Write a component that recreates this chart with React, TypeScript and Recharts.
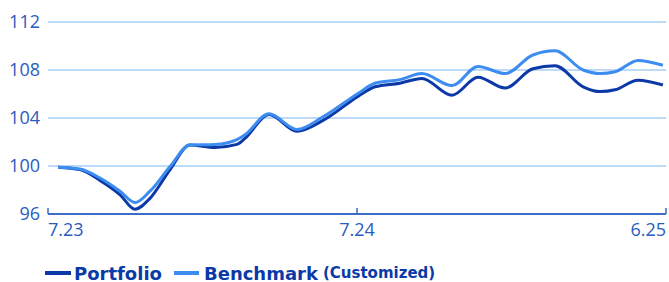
import React from 'react';
import { LineChart, Line, XAxis, YAxis, CartesianGrid } from 'recharts';

const months = [0.39, 1.24, 2.02, 2.8, 3.38, 3.96, 4.74, 5.51, 6.49, 7.34, 7.65, 8.58, 9.67, 10.68, 12.04, 12.7, 13.67, 14.52, 15.69, 16.7, 17.75, 18.83, 19.69, 20.78, 21.44, 22.02, 22.91, 23.88];
const portfolio = [99.9, 99.7, 98.8, 97.6, 96.4, 97.3, 99.7, 101.75, 101.55, 101.8, 102.3, 104.3, 102.9, 103.8, 105.8, 106.6, 106.9, 107.3, 105.9, 107.4, 106.5, 108.1, 108.35, 106.6, 106.2, 106.35, 107.15, 106.75];
const benchmark = [99.9, 99.75, 99.0, 97.9, 96.95, 97.9, 99.95, 101.75, 101.8, 102.2, 102.6, 104.35, 103.05, 104.1, 106.05, 106.9, 107.2, 107.7, 106.7, 108.3, 107.7, 109.25, 109.6, 108.0, 107.7, 107.85, 108.8, 108.4];

const xTicks = [0, 12, 24];
const xTickLabels = ['7.23', '7.24', '6.25'];
const yTicks = [96, 100, 104, 108, 112];

const data = months.map((m, i) => ({ m, portfolio: portfolio[i], benchmark: benchmark[i] }));

const PORT = '#0b3aa8';
const BENCH = '#3d8cf0';
const TICK = '#2a5bbf';

const XTick = (props: any) => {
  const { x, y, index, payload } = props;
  const i = xTicks.indexOf(payload.value);
  const anchor = i === 0 ? 'start' : i === xTicks.length - 1 ? 'end' : 'middle';
  return (
    <g>
      <line x1={x} x2={x} y1={y - 6} y2={y} stroke="#3d6cc4" strokeWidth={1.5} />
      <text x={x} y={y + 22} textAnchor={anchor} fill={TICK} fontSize={18} fontFamily="Open Sans">
        {xTickLabels[i >= 0 ? i : index]}
      </text>
    </g>
  );
};

export default function App() {
  return (
    <div style={{ position: 'absolute', left: 0, top: 0, width: 669, height: 282, background: '#fff' }}>
      <LineChart width={669} height={282} data={data} margin={{ top: 22, right: 3, left: 0, bottom: 38 }}>
        <CartesianGrid horizontal vertical={false} stroke="#a9cff7" strokeWidth={1.3} />
        <XAxis
          dataKey="m"
          type="number"
          domain={[0, 24]}
          ticks={xTicks}
          height={30}
          tickLine={false}
          tickSize={0}
          tickMargin={0}
          axisLine={{ stroke: '#3d6cc4', strokeWidth: 2 }}
          tick={<XTick />}
          interval={0}
        />
        <YAxis
          domain={[96, 112]}
          ticks={yTicks}
          width={48}
          axisLine={false}
          tickLine={false}
          tick={{ fill: TICK, fontSize: 18, fontFamily: 'Open Sans' }}
        />
        <Line type="monotone" dataKey="portfolio" stroke={PORT} strokeWidth={3} dot={false} isAnimationActive={false} />
        <Line type="monotone" dataKey="benchmark" stroke={BENCH} strokeWidth={3} dot={false} isAnimationActive={false} />
      </LineChart>
      <div
        style={{
          position: 'absolute',
          left: 45,
          top: 261,
          display: 'flex',
          alignItems: 'center',
          fontFamily: 'DejaVu Sans',
          fontWeight: 'bold',
          color: PORT,
          whiteSpace: 'nowrap',
          height: 24,
        }}
      >
        <span style={{ display: 'inline-block', width: 26, height: 4, background: PORT, marginRight: 3 }} />
        <span style={{ fontSize: 18 }}>Portfolio</span>
        <span style={{ display: 'inline-block', width: 25, height: 4, background: BENCH, marginLeft: 12, marginRight: 5 }} />
        <span style={{ fontSize: 18 }}>Benchmark</span>
        <span style={{ fontSize: 15, marginLeft: 5 }}>(Customized)</span>
      </div>
    </div>
  );
}
